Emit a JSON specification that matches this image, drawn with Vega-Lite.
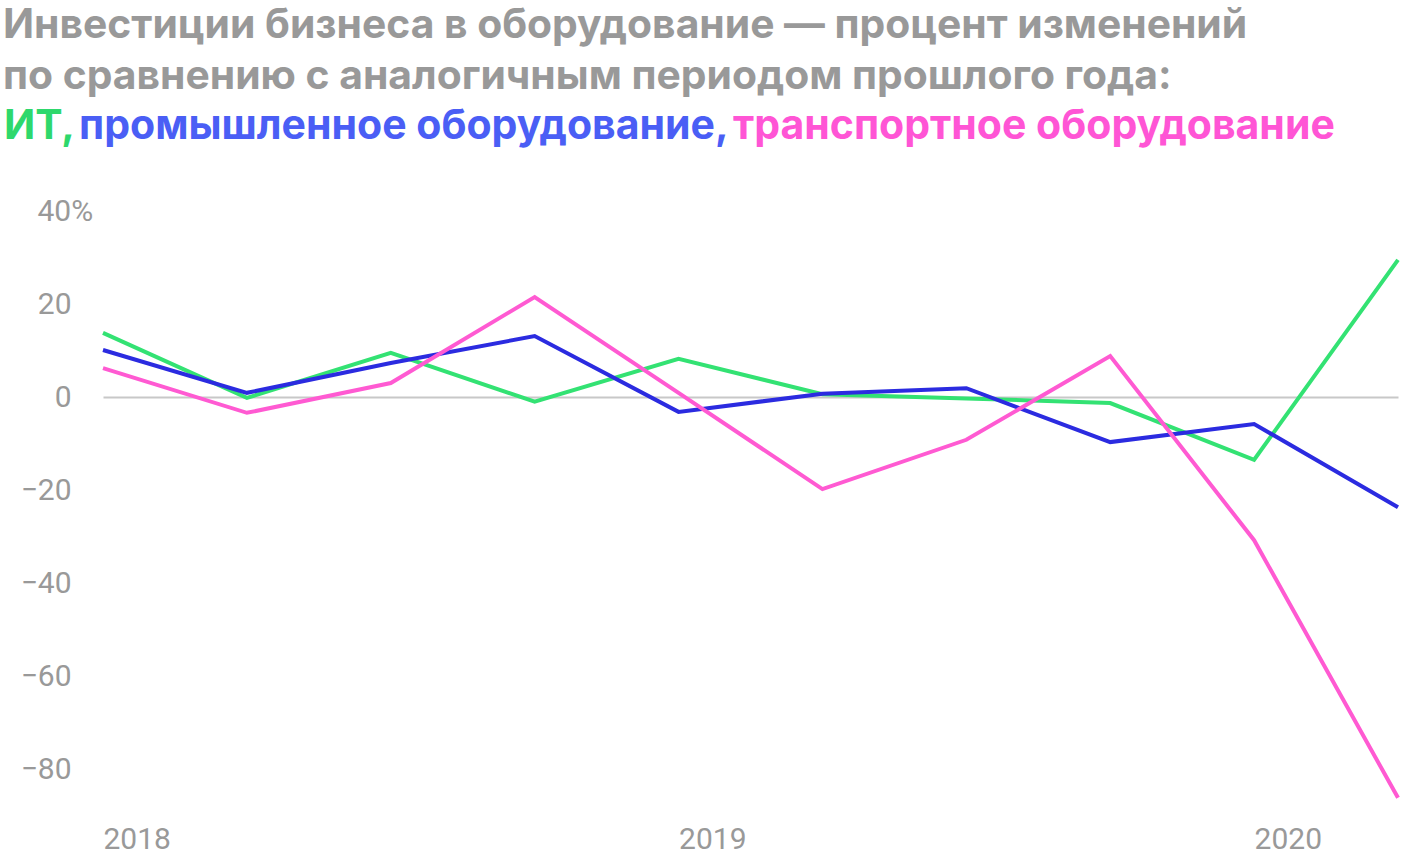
{
  "$schema": "https://vega.github.io/schema/vega-lite/v6.json",
  "width": 1295,
  "height": 604.5,
  "autosize": {"type": "none"},
  "padding": {"left": 103, "top": 211, "right": 4, "bottom": 44.5},
  "background": "white",
  "title": {
    "text": ["Инвестиции бизнеса в оборудование — процент изменений", "по сравнению с аналогичным периодом прошлого года:"],
    "anchor": "start",
    "frame": "group",
    "dx": -100,
    "offset": 8,
    "font": "Inter",
    "fontSize": 40.8,
    "fontWeight": "bold",
    "color": "#999999",
    "lineHeight": 51
  },
  "config": {"view": {"stroke": null}},
  "data": {
    "values": [
      {"q": "2018Q1", "s": "ИТ", "v": 13.8},
      {"q": "2018Q2", "s": "ИТ", "v": -0.2},
      {"q": "2018Q3", "s": "ИТ", "v": 9.5},
      {"q": "2018Q4", "s": "ИТ", "v": -1.0},
      {"q": "2019Q1", "s": "ИТ", "v": 8.2},
      {"q": "2019Q2", "s": "ИТ", "v": 0.6},
      {"q": "2019Q3", "s": "ИТ", "v": -0.3},
      {"q": "2019Q4", "s": "ИТ", "v": -1.3},
      {"q": "2020Q1", "s": "ИТ", "v": -13.5},
      {"q": "2020Q2", "s": "ИТ", "v": 29.5},
      {"q": "2018Q1", "s": "промышленное оборудование", "v": 10.1},
      {"q": "2018Q2", "s": "промышленное оборудование", "v": 0.9},
      {"q": "2018Q3", "s": "промышленное оборудование", "v": 7.3},
      {"q": "2018Q4", "s": "промышленное оборудование", "v": 13.1},
      {"q": "2019Q1", "s": "промышленное оборудование", "v": -3.2},
      {"q": "2019Q2", "s": "промышленное оборудование", "v": 0.7},
      {"q": "2019Q3", "s": "промышленное оборудование", "v": 1.9},
      {"q": "2019Q4", "s": "промышленное оборудование", "v": -9.7},
      {"q": "2020Q1", "s": "промышленное оборудование", "v": -5.8},
      {"q": "2020Q2", "s": "промышленное оборудование", "v": -23.7},
      {"q": "2018Q1", "s": "транспортное оборудование", "v": 6.2},
      {"q": "2018Q2", "s": "транспортное оборудование", "v": -3.4},
      {"q": "2018Q3", "s": "транспортное оборудование", "v": 3.0},
      {"q": "2018Q4", "s": "транспортное оборудование", "v": 21.5},
      {"q": "2019Q1", "s": "транспортное оборудование", "v": 0.9},
      {"q": "2019Q2", "s": "транспортное оборудование", "v": -19.8},
      {"q": "2019Q3", "s": "транспортное оборудование", "v": -9.2},
      {"q": "2019Q4", "s": "транспортное оборудование", "v": 8.8},
      {"q": "2020Q1", "s": "транспортное оборудование", "v": -30.8},
      {"q": "2020Q2", "s": "транспортное оборудование", "v": -86.2}
    ]
  },
  "mark": {"type": "line", "strokeWidth": 4, "strokeJoin": "miter"},
  "encoding": {
    "x": {
      "field": "q",
      "type": "ordinal",
      "sort": null,
      "scale": {"type": "point", "padding": 0},
      "axis": {
        "title": null,
        "values": ["2018Q1", "2019Q1", "2020Q1"],
        "labelExpr": "slice(datum.value, 0, 4)",
        "labelAlign": "left",
        "labelAngle": 0,
        "labelFont": "Roboto",
        "labelFontSize": 30,
        "labelColor": "#999999",
        "labelPadding": 9,
        "ticks": false,
        "domain": false,
        "grid": false
      }
    },
    "y": {
      "field": "v",
      "type": "quantitative",
      "scale": {"domain": [-90, 40], "nice": false, "zero": false},
      "axis": {
        "title": null,
        "values": [-80, -60, -40, -20, 0, 20, 40],
        "labelExpr": "datum.value === 40 ? '40%' : datum.label",
        "labelAlign": {"condition": {"test": "datum.value === 40", "value": "left"}, "value": "right"},
        "labelPadding": {"condition": {"test": "datum.value === 40", "value": 66}, "value": 32},
        "labelFont": "Roboto",
        "labelFontSize": 30,
        "labelColor": "#999999",
        "ticks": false,
        "domain": false,
        "grid": true,
        "gridColor": "#c8c8c8",
        "gridWidth": 2,
        "gridOpacity": {"condition": {"test": "datum.value === 0", "value": 1}, "value": 0}
      }
    },
    "color": {
      "field": "s",
      "type": "nominal",
      "scale": {
        "domain": ["ИТ", "промышленное оборудование", "транспортное оборудование"],
        "range": ["#33e273", "#2b2be0", "#ff5ad2"]
      },
      "legend": {
        "orient": "none",
        "legendX": -100,
        "legendY": -105,
        "direction": "horizontal",
        "gridAlign": "none",
        "title": null,
        "padding": 0,
        "symbolType": "circle",
        "symbolSize": 1,
        "symbolOpacity": 0,
        "symbolStrokeWidth": 0,
        "labelOffset": -40,
        "columnPadding": 3,
        "labelFont": "Inter",
        "labelFontSize": 41,
        "labelFontWeight": "bold",
        "labelLimit": 0,
        "labelExpr": "datum.value === 'транспортное оборудование' ? datum.value : datum.value + ','",
        "encode": {
          "labels": {
            "update": {
              "fill": {"signal": "datum.value === 'ИТ' ? '#2ed86c' : datum.value === 'промышленное оборудование' ? '#4a5ef5' : '#ff55d5'"}
            }
          }
        }
      }
    }
  }
}
